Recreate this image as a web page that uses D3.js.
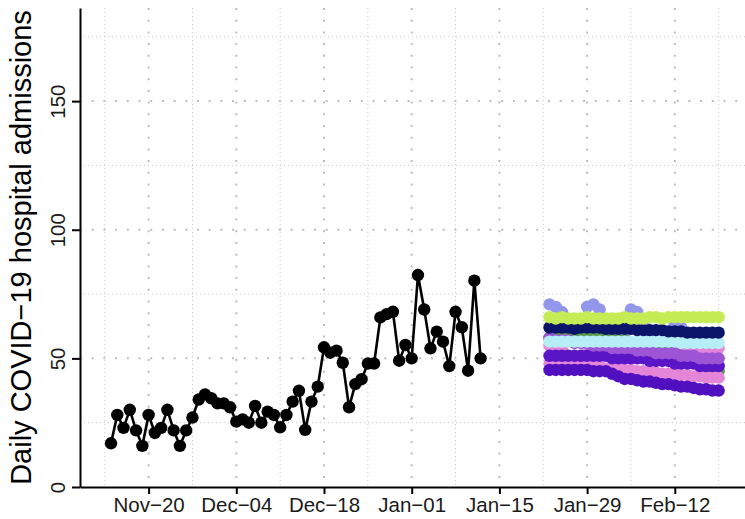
<!DOCTYPE html>
<html>
<head>
<meta charset="utf-8">
<script src="https://cdn.jsdelivr.net/npm/d3@7"></script>
<style>
  html, body { margin: 0; padding: 0; background: #fff; }
  svg { display: block; font-family: "Liberation Sans", Arial, sans-serif; }
</style>
</head>
<body>
<svg id="chart" width="745" height="519"></svg>
<script>
// ---------------- DATA ----------------
const observedStart = "2020-11-14";
const observed = [17,28,23,30,22,16,28,21,23,30,22,16,22,27,34,36,34.5,32.5,32.5,31,
                  25.4,26.3,25,31.5,25,29.3,28,23.2,28,33.2,37.4,22.2,33.2,39,54.3,52.2,53,48.3,31,40,
                  41.9,48,48,65.9,67.2,68.1,49.1,55.2,50,82.4,69,53.9,60.4,56.5,47,68.1,62.1,45.2,80.2,50];

const forecastStart = "2021-01-23";
const periwinkle  = [71,70,68,63,60,59,70, 71,69,64,60,58,60,69, 68,63,58,55,54,57,63, 62,57,52,49,46,45,47];
const pinkUpper   = [55,55,54,57,59,60,55, 54,54,54,54,54,54,54, 54,54,54,54,54,54,54, 54,54,54,54,54,54,54];
const greenSeries = [58,58,59,59,59,59,59, 59,59,58,58,57,57,56, 56,55,55,54,53,53,52, 51,50,49,48,47,46,45];
const pinkLower   = [48,48,48,48,48,47,47, 47,47,46,46,46,45.5,45.5, 45,45,45,44.5,44,44,44, 43.5,43.5,43,43,42.5,42.5,42.5];
const indigoLower = [45.5,45.5,45.5,45.5,45.5,45.5,45.5, 45,45,45,44,43,42,42, 41.5,41,41,40.5,40,40,39.5, 39,39,38.5,38,38,37.5,37.5];
const indigoUpper = [51,51,51,51,51,51,51, 51,51,51,50,50,50,50, 50,50,49,49,49,49,48, 48,48,48,47,47,47,47];
const violet      = [58,57,57,57,56,56,56, 55,55,55,54,54,54,54, 53,53,53,52,52,52,52, 51,51,51,50,50,50,50];
const cyan        = [56.5,56.5,56.5,56.5,56.5,56.5,56.5, 56.5,56.5,56.5,56.5,56.5,56.5,56.5, 56.5,56.5,56.5,56.5,56.5,56.5,56.5, 56,56,56,56,56,56,56];
const navy        = [62,62,62,62,61.5,62,62, 62,62,61.5,61.5,61.5,61.5,61.5, 61,61,61,61,61,60.5,60.5, 60.5,60,60,60,60,60,60];
const yellowGreen = [66,65.5,66,65.5,65.5,65.5,66, 65.5,65.5,65.5,65.5,65.5,66,65.5, 65.5,65.5,66,66,65.5,66,66, 66,66,66,66,66,66,66];

const seriesNames  = ["periwinkle","pinkUpper","green","pinkLower","indigoLower","indigoUpper","violet","cyan","navy","yellowGreen"];
const seriesValues = [periwinkle, pinkUpper, greenSeries, pinkLower, indigoLower, indigoUpper, violet, cyan, navy, yellowGreen];
const seriesColors = ["#9397ea","#e585d8","#5b9b4c","#e585d8","#5010c0","#5a16c6","#9d55d6","#b5eef6","#0a1468","#c6ec55"];

const xTickDates = ["2020-11-20","2020-12-04","2020-12-18","2021-01-01","2021-01-15","2021-01-29","2021-02-12"];
const xMinorDates = ["2020-11-13","2020-11-27","2020-12-11","2020-12-25","2021-01-08","2021-01-22","2021-02-05","2021-02-19"];
const yTicks = [0, 50, 100, 150];
const yMinor = [25, 75, 125, 175];
const yTitle = "Daily COVID\u221219 hospital admissions";

// ---------------- SCALES ----------------
const svg = d3.select("#chart");
const parse = d3.utcParse("%Y-%m-%d");
const pLeft = 80, pRight = 745, pTop = 8, pBottom = 487;

const xBase = d3.scaleUtc()
  .domain([parse("2020-11-20"), parse("2021-02-12")])
  .range([148.6, 674.8]);
const x = d3.scaleUtc()
  .domain([xBase.invert(pLeft), xBase.invert(pRight)])
  .range([pLeft, pRight]);
const y = d3.scaleLinear().domain([0, 186.2]).range([pBottom, pTop]);

// ---------------- GRID ----------------
const grid = svg.append("g");
grid.append("g").selectAll("line").data(yMinor).join("line")
  .attr("x1", pLeft).attr("x2", pRight)
  .attr("y1", d => y(d)).attr("y2", d => y(d))
  .attr("stroke", "#c8c8c8").attr("stroke-width", 1).attr("stroke-dasharray", "1,3");
grid.append("g").selectAll("line").data(xMinorDates.map(parse)).join("line")
  .attr("y1", pTop).attr("y2", pBottom)
  .attr("x1", d => x(d)).attr("x2", d => x(d))
  .attr("stroke", "#c8c8c8").attr("stroke-width", 1).attr("stroke-dasharray", "1,3");
grid.append("g").selectAll("line").data(yTicks.filter(d => d > 0)).join("line")
  .attr("x1", pLeft).attr("x2", pRight)
  .attr("y1", d => y(d)).attr("y2", d => y(d))
  .attr("stroke", "#bdbdbd").attr("stroke-width", 2).attr("stroke-dasharray", "2,9.7");
grid.append("g").selectAll("line").data(xTickDates.map(parse)).join("line")
  .attr("y1", pTop).attr("y2", pBottom)
  .attr("x1", d => x(d)).attr("x2", d => x(d))
  .attr("stroke", "#bdbdbd").attr("stroke-width", 2).attr("stroke-dasharray", "2,9.7");

// ---------------- FORECAST SERIES ----------------
const fStart = parse(forecastStart);
const line = d3.line().x(d => x(d.date)).y(d => y(d.value));
seriesValues.forEach((vals, i) => {
  const pts = vals.map((v, k) => ({date: d3.utcDay.offset(fStart, k), value: v}));
  const g = svg.append("g").attr("class", seriesNames[i]);
  g.append("path").datum(pts).attr("d", line)
    .attr("fill", "none").attr("stroke", seriesColors[i]).attr("stroke-width", 2.6);
  g.selectAll("circle").data(pts).join("circle")
    .attr("cx", d => x(d.date)).attr("cy", d => y(d.value)).attr("r", 6.2)
    .attr("fill", seriesColors[i]);
});

// ---------------- OBSERVED ----------------
const oStart = parse(observedStart);
const obs = observed.map((v, k) => ({date: d3.utcDay.offset(oStart, k), value: v}));
svg.append("path").datum(obs).attr("d", line)
  .attr("fill", "none").attr("stroke", "#000").attr("stroke-width", 2.6);
svg.append("g").selectAll("circle").data(obs).join("circle")
  .attr("cx", d => x(d.date)).attr("cy", d => y(d.value)).attr("r", 6.2)
  .attr("fill", "#000");

// ---------------- AXES ----------------
const fmt = d => d3.utcFormat("%b")(d) + "\u2212" + d3.utcFormat("%d")(d);
const xAxis = svg.append("g").attr("transform", `translate(0,${pBottom})`)
  .call(d3.axisBottom(x).tickValues(xTickDates.map(parse)).tickFormat(fmt).tickSize(7).tickSizeOuter(0));
xAxis.select(".domain").attr("stroke", "#000").attr("stroke-width", 2);
xAxis.selectAll(".tick line").attr("stroke", "#000").attr("stroke-width", 2);
xAxis.selectAll(".tick text").attr("y", 25).attr("dy", 0)
  .attr("font-size", 20.5).attr("fill", "#1a1a1a").attr("font-family", "Liberation Sans, Arial, sans-serif");

const yAxis = svg.append("g").attr("transform", `translate(${pLeft},0)`)
  .call(d3.axisLeft(y).tickValues(yTicks).tickSize(8).tickSizeOuter(0));
yAxis.select(".domain").attr("stroke", "#000").attr("stroke-width", 2);
yAxis.selectAll(".tick line").attr("stroke", "#000").attr("stroke-width", 2);
yAxis.selectAll(".tick text")
  .attr("x", 0).attr("y", 0).attr("dy", 0)
  .attr("transform", "translate(-15,0) rotate(-90)")
  .attr("text-anchor", "middle")
  .attr("font-size", 20.5).attr("fill", "#1a1a1a").attr("font-family", "Liberation Sans, Arial, sans-serif");

svg.append("text")
  .attr("transform", `translate(31,${(pTop + pBottom) / 2}) rotate(-90)`)
  .attr("text-anchor", "middle")
  .attr("font-size", 29).attr("fill", "#000")
  .text(yTitle);
</script>
</body>
</html>
